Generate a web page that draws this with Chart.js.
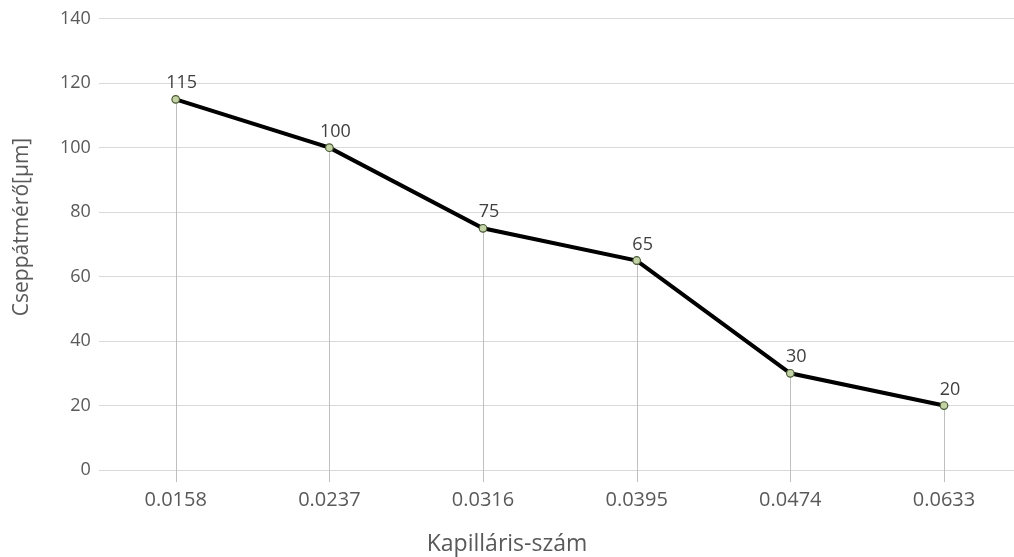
<!DOCTYPE html>
<html>
<head>
<meta charset="utf-8">
<script src="https://cdn.jsdelivr.net/npm/chart.js@4/dist/chart.umd.min.js"></script>
<style>
  html, body { margin: 0; padding: 0; background: #ffffff; overflow: hidden; }
  #wrap { width: 1026px; height: 557px; position: relative; }
</style>
</head>
<body>
<div id="wrap"><canvas id="grafico"></canvas></div>
<script>
// Kapilláris-szám kategóriák és cseppátmérő értékek
const kategoriak = ['0.0158', '0.0237', '0.0316', '0.0395', '0.0474', '0.0633'];
const cseppatmero = [115, 100, 75, 65, 30, 20];
const yTickek = [0, 20, 40, 60, 80, 100, 120, 140];

const betu = '"Open Sans", "Noto Sans", sans-serif';

// Függőleges vetítővonalak a pontoktól a tengely alá
const vetitoVonalak = {
    id: 'vetitoVonalak',
    beforeDatasetsDraw(chart) {
        const ctx = chart.ctx;
        const meta = chart.getDatasetMeta(0);
        const alj = chart.scales.y.getPixelForValue(0) + 12;
        ctx.save();
        ctx.strokeStyle = '#bfbfbf';
        ctx.lineWidth = 1;
        meta.data.forEach(p => {
            ctx.beginPath();
            ctx.moveTo(Math.round(p.x) + 0.5, p.y);
            ctx.lineTo(Math.round(p.x) + 0.5, alj);
            ctx.stroke();
        });
        ctx.restore();
    }
};

// Adatcímkék a pontok fölött + tengelycímek
const adatCimkek = {
    id: 'adatCimkek',
    afterDatasetsDraw(chart) {
        const ctx = chart.ctx;
        const meta = chart.getDatasetMeta(0);
        ctx.save();
        ctx.font = '18px ' + betu;
        ctx.fillStyle = '#404040';
        ctx.textAlign = 'center';
        ctx.textBaseline = 'alphabetic';
        meta.data.forEach((p, i) => {
            ctx.fillText(String(cseppatmero[i]), p.x + 6, p.y - 11);
        });
        ctx.restore();

        ctx.save();
        ctx.fillStyle = '#595959';
        ctx.textAlign = 'center';
        ctx.textBaseline = 'middle';
        ctx.font = '23px ' + betu;
        ctx.fillText('Kapilláris-szám', 507, 544);
        ctx.font = '21px ' + betu;
        ctx.translate(22, 227);
        ctx.rotate(-Math.PI / 2);
        ctx.fillText('Cseppátmérő[µm]', 0, 0);
        ctx.restore();
    }
};

new Chart(document.getElementById('grafico').getContext('2d'), {
    type: 'line',
    data: {
        labels: kategoriak,
        datasets: [{
            data: cseppatmero,
            borderColor: '#000000',
            borderWidth: 4,
            pointRadius: 3.8,
            pointBackgroundColor: '#c4d3a6',
            pointBorderColor: '#4a5a36',
            pointBorderWidth: 1.2,
            tension: 0,
            fill: false
        }]
    },
    options: {
        responsive: true,
        maintainAspectRatio: false,
        animation: false,
        layout: { padding: { top: 13, right: 0, left: 52, bottom: 27 } },
        plugins: {
            legend: { display: false },
            tooltip: { enabled: false }
        },
        scales: {
            x: {
                offset: true,
                grid: { display: false, drawTicks: false },
                border: { display: false },
                ticks: { color: '#595959', font: { family: betu, size: 20 }, padding: 18 }
            },
            y: {
                min: 0,
                max: 140,
                afterBuildTicks(axis) { axis.ticks = yTickek.map(v => ({ value: v })); },
                grid: { color: '#d9d9d9', lineWidth: 1, drawTicks: false },
                border: { display: false },
                ticks: { color: '#595959', font: { family: betu, size: 18 }, padding: 8 }
            }
        }
    },
    plugins: [vetitoVonalak, adatCimkek]
});
</script>
</body>
</html>
